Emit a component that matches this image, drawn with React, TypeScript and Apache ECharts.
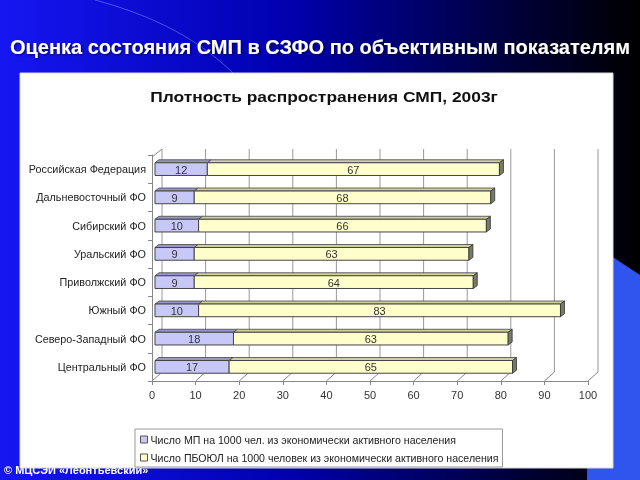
import React, { useEffect, useRef } from "react";
import * as echarts from "echarts";

const categories = [
  "Российская Федерация",
  "Дальневосточный ФО",
  "Сибирский ФО",
  "Уральский ФО",
  "Приволжский ФО",
  "Южный ФО",
  "Северо-Западный ФО",
  "Центральный ФО",
];
const mpValues = [12, 9, 10, 9, 9, 10, 18, 17];
const pboulValues = [67, 68, 66, 63, 64, 83, 63, 65];
const gridValues = [0, 10, 20, 30, 40, 50, 60, 70, 80, 90, 100];

const seriesNames = [
  "Число МП на 1000 чел. из экономически активного населения",
  "Число ПБОЮЛ на 1000 человек из экономически активного населения",
];
const mainTitle = "Оценка состояния СМП в СЗФО по объективным показателям";
const chartTitle = "Плотность распространения СМП, 2003г";
const footer = "© МЦСЭИ «Леонтьевский»";

const FONT = "'Liberation Sans', Arial, sans-serif";
const DX = 4;
const DY = 3;

function makeBarRenderer(front: string, top: string, side: string, withEnd: boolean) {
  return (params: any, api: any) => {
    const s = api.value(0);
    const e = api.value(1);
    const c = api.value(2);
    const p0 = api.coord([s, c]);
    const p1 = api.coord([e, c]);
    const h = api.size([0, 1])[1] * 0.45;
    const x = p0[0] + 3;
    const w = p1[0] - p0[0];
    const y = p0[1] - h / 2;
    const children: any[] = [
      {
        type: "polygon",
        shape: { points: [[x, y], [x + DX, y - DY], [x + w + DX, y - DY], [x + w, y]] },
        style: { fill: top, stroke: "#444", lineWidth: 0.8 },
      },
      {
        type: "rect",
        shape: { x, y, width: w, height: h },
        style: { fill: front, stroke: "#444", lineWidth: 1 },
      },
    ];
    if (withEnd) {
      children.push({
        type: "polygon",
        shape: { points: [[x + w, y], [x + w + DX, y - DY], [x + w + DX, y + h - DY], [x + w, y + h]] },
        style: { fill: side, stroke: "#333", lineWidth: 0.8 },
      });
    }
    children.push({
      type: "text",
      style: {
        x: x + w / 2,
        y: y + h / 2 + 0.5,
        text: String(api.value(3)),
        fill: "#333",
        font: `11px ${FONT}`,
        align: "center",
        verticalAlign: "middle",
      },
    });
    return { type: "group", children };
  };
}

export default function App() {
  const ref = useRef<HTMLDivElement>(null);
  useEffect(() => {
    document.body.style.margin = "0";
    const chart = echarts.init(ref.current!, null, { renderer: "svg" });

    const mpData = mpValues.map((v, i) => [0, v, i, v]);
    const pbData = pboulValues.map((v, i) => [mpValues[i], mpValues[i] + v, i, v]);
    const frameData = gridValues.map((v) => [v, 0]);

    const option: any = {
      animation: false,
      graphic: [
        {
          type: "rect",
          z: 0,
          shape: { x: 0, y: 0, width: 640, height: 480 },
          style: {
            fill: new echarts.graphic.LinearGradient(0, 0, 1, 0, [
              { offset: 0, color: "#1616f2" },
              { offset: 0.45, color: "#0000b0" },
              { offset: 0.8, color: "#00003a" },
              { offset: 1, color: "#000000" },
            ]),
          },
        },
        {
          type: "polygon",
          z: 0,
          shape: { points: [[590, 242], [640, 275], [640, 480], [587, 480]] },
          style: { fill: "#2f55ee" },
        },
        {
          type: "bezierCurve",
          z: 0,
          shape: { x1: 95, y1: 0, x2: 236, y2: 76, cpx1: 170, cpy1: 20, cpx2: 210, cpy2: 50 },
          style: { stroke: "rgba(120,140,255,0.55)", lineWidth: 1, fill: null },
        },
        {
          type: "text",
          z: 0,
          style: {
            x: 4,
            y: 470,
            text: footer,
            fill: "#ffffff",
            font: `bold 11px ${FONT}`,
            verticalAlign: "middle",
          },
        },
        {
          type: "rect",
          z: 1,
          shape: { x: 20, y: 73, width: 593, height: 395 },
          style: { fill: "#ffffff", stroke: "#d8d8d8", lineWidth: 1 },
        },
        {
          type: "text",
          z: 1,
          x: 320,
          y: 47,
          style: {
            x: 0,
            y: 0,
            text: mainTitle,
            fill: "#ffffff",
            font: `bold 20px ${FONT}`,
            align: "center",
            verticalAlign: "middle",
            textShadowColor: "rgba(0,0,0,0.6)",
            textShadowBlur: 2,
            textShadowOffsetX: 1,
            textShadowOffsetY: 1,
          },
        },
        {
          type: "text",
          z: 1,
          x: 324,
          y: 97,
          scaleX: 1.2,
          style: {
            x: 0,
            y: 0,
            text: chartTitle,
            fill: "#111111",
            font: `bold 14.5px ${FONT}`,
            align: "center",
            verticalAlign: "middle",
          },
        },
      ],
      grid: { left: 152, right: 52, top: 155, bottom: 99, z: 5 },
      xAxis: {
        type: "value",
        min: 0,
        max: 100,
        interval: 10,
        z: 5,
        axisLine: { show: true, lineStyle: { color: "#888", width: 1 } },
        axisTick: { show: true, length: 4, lineStyle: { color: "#888" } },
        axisLabel: { color: "#333", fontSize: 11, fontFamily: FONT, margin: 8 },
        splitLine: { show: false },
      },
      yAxis: {
        type: "category",
        inverse: true,
        data: categories,
        z: 5,
        axisLine: { show: true, lineStyle: { color: "#888", width: 1 } },
        axisTick: { show: true, length: 4, lineStyle: { color: "#888" } },
        axisLabel: { color: "#222", fontSize: 10.8, fontFamily: FONT, margin: 6 },
      },
      legend: {
        orient: "vertical",
        left: 135,
        top: 429,
        z: 10,
        itemWidth: 7,
        itemHeight: 7,
        itemGap: 7,
        padding: [5, 4, 4, 5],
        borderColor: "#999",
        borderWidth: 1,
        backgroundColor: "#fff",
        icon: "rect",
        itemStyle: { borderColor: "#555", borderWidth: 1 },
        textStyle: { fontSize: 10.6, color: "#222", fontFamily: FONT, padding: [0, 0, 0, -2] },
        data: seriesNames,
      },
      series: [
        {
          type: "custom",
          name: "frame",
          z: 3,
          silent: true,
          encode: { x: 0, y: 1 },
          data: frameData,
          renderItem: (params: any, api: any) => {
            const v = api.value(0);
            const p = api.coord([v, 0]);
            const cs = params.coordSys;
            const yb = cs.y + cs.height;
            const x = p[0];
            const children: any[] = [
              {
                type: "line",
                shape: { x1: x, y1: yb, x2: x + 10, y2: yb - 9 },
                style: { stroke: "#888", lineWidth: 1 },
              },
              {
                type: "line",
                shape: { x1: x + 10, y1: yb - 9, x2: x + 10, y2: cs.y - 6 },
                style: { stroke: "#999", lineWidth: 1 },
              },
            ];
            if (v === 0) {
              children.push({
                type: "line",
                shape: { x1: x, y1: cs.y + 2, x2: x + 10, y2: cs.y - 6 },
                style: { stroke: "#888", lineWidth: 1 },
              });
            }
            return { type: "group", children };
          },
        },
        {
          type: "custom",
          name: seriesNames[0],
          z: 6,
          itemStyle: { color: "#c8c8f8" },
          encode: { x: [0, 1], y: 2 },
          data: mpData,
          renderItem: makeBarRenderer("#c8c8f8", "#9898c8", "#6a6a90", false),
        },
        {
          type: "custom",
          name: seriesNames[1],
          z: 6,
          itemStyle: { color: "#ffffcc" },
          encode: { x: [0, 1], y: 2 },
          data: pbData,
          renderItem: makeBarRenderer("#ffffcc", "#cfcf9f", "#7a7a68", true),
        },
      ],
    };
    chart.setOption(option);
    return () => chart.dispose();
  }, []);
  return (
    <div
      ref={ref}
      style={{ position: "fixed", left: 0, top: 0, width: 640, height: 480 }}
    />
  );
}
